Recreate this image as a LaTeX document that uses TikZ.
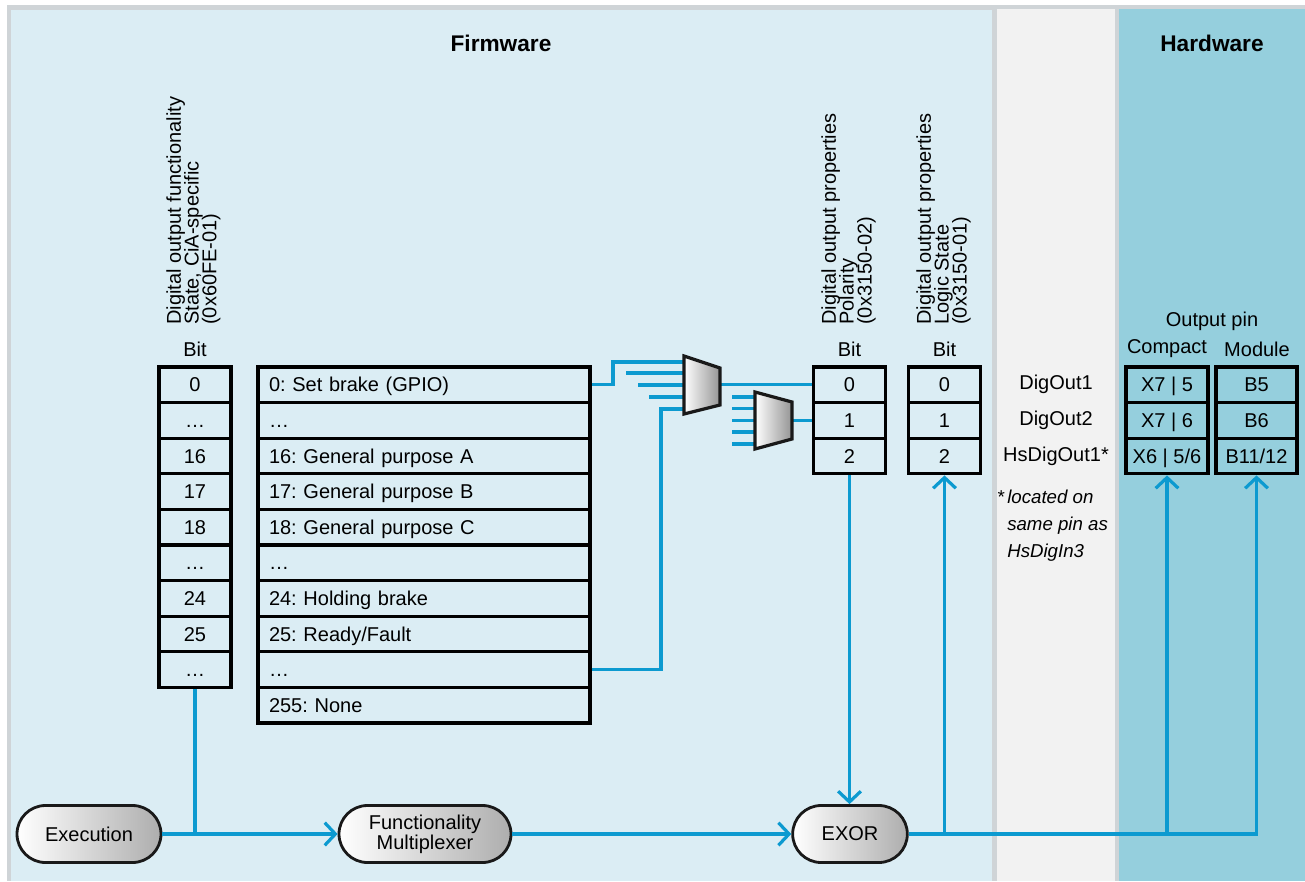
\documentclass[tikz,border=0pt]{standalone}
\usepackage{fontspec}
\setmainfont{Liberation Sans}
\usetikzlibrary{arrows.meta,shapes.misc,calc}
\definecolor{fwblue}{RGB}{219,237,244}
\definecolor{hwblue}{RGB}{149,207,221}
\definecolor{midgrey}{RGB}{242,242,242}
\definecolor{framegrey}{RGB}{207,212,215}
\definecolor{wireblue}{RGB}{12,154,208}
\begin{document}
\frenchspacing
\begin{tikzpicture}[x=0.75pt,y=-0.75pt,
  every node/.style={font=\fontsize{15}{18}\selectfont},
  cell/.style={draw=black, line width=2.4pt, minimum height=26.7pt, text height=10.75pt, text depth=0pt, inner sep=0pt, anchor=center},
  cellL/.style={cell, minimum width=54pt},
  cellP/.style={cell, minimum width=54.5pt},
  cellC/.style={cell, minimum width=61.5pt},
  cellM/.style={cell, minimum width=60.75pt},
  listcell/.style={cell, text width=232.5pt, align=left, inner xsep=8.25pt},
  rottext/.style={rotate=90, anchor=north west, inner sep=0pt, align=left, font={\fontsize{15}{13.4}\selectfont\lineskiplimit=-\maxdimen}},
  pill/.style={rounded rectangle, draw=black!90, line width=2.1pt, minimum height=42.75pt, left color=white, right color=black!32, align=center, inner sep=0pt, font={\fontsize{15}{15}\selectfont}},
  title/.style={font={\fontsize{17}{20}\selectfont\bfseries}},
  wire/.style={draw=wireblue, line width=2.4pt},
  arr/.style={-{Straight Barb[length=8pt,width=17pt]}},
  mux/.style={draw=black!90, line width=2.4pt, left color=white, right color=black!42, line join=miter}
]
\useasboundingbox (0,0) rectangle (1305,881);
% panels
\fill[white] (0,0) rectangle (1305,881);
\fill[framegrey] (7,5) rectangle (1305,881);
\fill[fwblue] (11,10) rectangle (992,881);
\fill[midgrey] (997,9) rectangle (1115,881);
\fill[hwblue] (1119,9) rectangle (1305,881);

\node[title] (fwtitle) at (501,43) {Firmware};
\node[title] (hwtitle) at (1212,43) {Hardware};

% rotated headers
\node[rottext] (hdrL) at (166,325) {Digital output functionality\\State, CiA-specific\\(0x60FE-01)};
\node[rottext] (hdrP) at (821,325) {Digital output properties\\Polarity\\(0x3150-02)};
\node[rottext] (hdrS) at (916,325) {Digital output properties\\Logic State\\(0x3150-01)};

\node (bitL) at (195,349) {Bit};
\node (bitP) at (849.5,349) {Bit};
\node (bitS) at (944.5,349) {Bit};

% left column
\foreach \t [count=\i from 0] in {0,…,16,17,18,…,24,25,…}
  \node[cellL] (c\i) at (195,{384.8+35.6*\i}) {\t};

% function list
\foreach \t [count=\i from 0] in {{0: Set brake (GPIO)},…,{16: General purpose A},{17: General purpose B},{18: General purpose C},…,{24: Holding brake},{25: Ready/Fault},…,{255: None}}
  \node[listcell] (r\i) at (424,{384.8+35.6*\i}) {\t};

% polarity and logic state
\foreach \t [count=\i from 0] in {0,1,2}{
  \node[cellP] (p\i) at (849.5,{384.8+35.6*\i}) {\t};
  \node[cellP] (l\i) at (944.5,{384.8+35.6*\i}) {\t};
}

% hardware
\node (outpin) at (1212,321) {Output pin};
\node (compact) at (1167,349) {Compact};
\node (module) at (1257,349) {Module};
\foreach \a/\b/\n [count=\i from 0] in {{X7 | 5}/B5/DigOut1,{X7 | 6}/B6/DigOut2,{X6 | 5/6}/B11\slash 12/HsDigOut1*}{
  \node[cellC] (hc\i) at (1167,{384.8+35.6*\i}) {\a};
  \node[cellM] (hm\i) at (1256.5,{384.8+35.6*\i}) {\b};
  \node (dn\i) at (1056,{384.8+35.6*\i}) {\n};
}
\node[anchor=north west, align=left, inner sep=0pt, font={\fontsize{14}{20}\selectfont\itshape}] (note) at (1007,490) {\llap{*\,}located on\\same pin as\\HsDigIn3};

% bottom nodes
\node[pill, minimum width=108pt] (exec) at (89,834) {Execution};
\node[pill, minimum width=129pt] (fm) at (425,834) {Functionality\\Multiplexer};
\node[pill, minimum width=86pt] (exor) at (850,834) {EXOR};

% mux coordinates
\coordinate (k1) at (613,362);
\coordinate (m1a) at (686,362);
\coordinate (s1b) at (626,373); \coordinate (m1b) at (686,373);
\coordinate (s1c) at (638,385); \coordinate (m1c) at (686,385);
\coordinate (s1d) at (649,397); \coordinate (m1d) at (686,397);
\coordinate (k2) at (661,409);
\coordinate (m1e) at (686,409);
\coordinate (m1o) at (720,384.8);
\foreach \y [count=\j] in {397,408.5,420.4,432,444}{
  \coordinate (s2\j) at (732,\y);
  \coordinate (m2\j) at (757,\y);
}
\coordinate (m2o) at (792,420.4);

% wires
\draw[wire] (r0.east) -| (k1) -- (m1a);
\draw[wire] (s1b) -- (m1b);
\draw[wire] (s1c) -- (m1c);
\draw[wire] (s1d) -- (m1d);
\draw[wire] (r8.east) -| (k2) -- (m1e);
\draw[wire] (m1o) -- (m1o -| p0.west);
\foreach \j in {1,...,5} \draw[wire] (s2\j) -- (m2\j);
\draw[wire] (m2o) -- (m2o -| p1.west);

% mux shapes
\path[mux] (684,356) -- (720,368) -- (720,405) -- (684,414) -- cycle;
\path[mux] (755,392) -- (792,402) -- (792,439) -- (755,449) -- cycle;

\draw[wire] (c8.south) -- (c8.south |- exec.east);
\draw[wire,arr] (exec.east) -- (fm.west);
\draw[wire,arr] (fm.east) -- (exor.west);
\draw[wire,arr] (p2.south) -- (p2.south |- exor.north);
\draw[wire,arr] (exor.east) -| (hm2.south);
\draw[wire,arr] (l2.south |- exor.east) -- (l2.south);
\draw[wire,arr] (hc2.south |- exor.east) -- (hc2.south);
\end{tikzpicture}
\end{document}
